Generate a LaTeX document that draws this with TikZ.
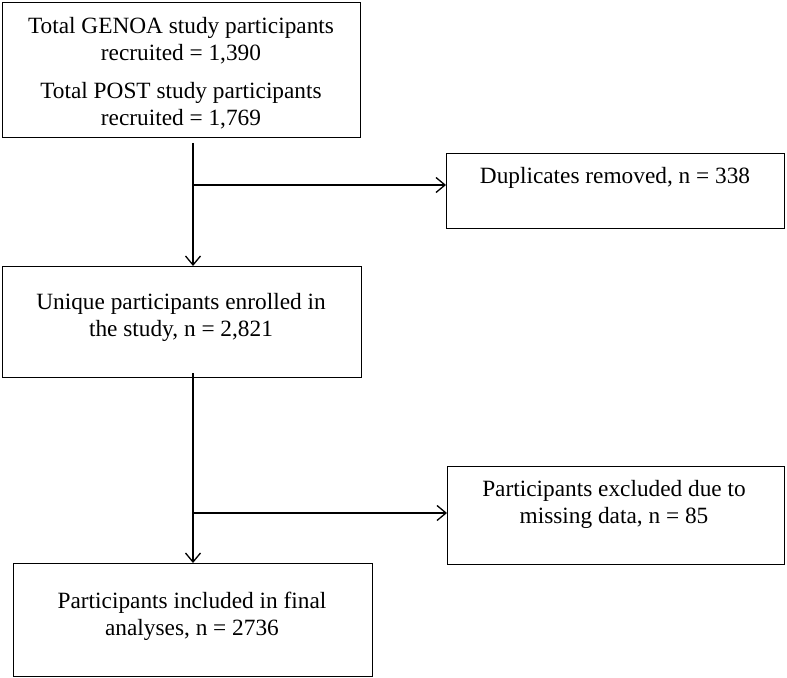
\documentclass[tikz,border=0pt]{standalone}
\usepackage{fontspec}
\setmainfont{Liberation Serif}
\usetikzlibrary{arrows.meta}
\begin{document}
\begin{tikzpicture}[x=1bp,y=-1bp,
  box/.style={draw, line width=1.4bp, anchor=north west, inner sep=0pt},
  txt/.style={align=center, inner sep=0pt, font=\fontsize{23.4}{27.2}\selectfont},
  arr/.style={line width=1.3bp, -{Straight Barb[length=9bp,width=15bp,line width=1.3bp]}},
  ln/.style={line width=1.3bp}]
\useasboundingbox (0,0) rectangle (787,678);
% boxes
\node[box, minimum width=358bp, minimum height=135bp] (b1) at (2,2) {};
\node[box, minimum width=338bp, minimum height=75bp] (b2) at (446,153) {};
\node[box, minimum width=359bp, minimum height=111bp] (b3) at (2,266) {};
\node[box, minimum width=337bp, minimum height=98bp] (b4) at (447,466) {};
\node[box, minimum width=359bp, minimum height=113bp] (b5) at (13,563) {};
% texts
\node[txt] (t1a) at (181,41) {Total GENOA study participants\\recruited = 1,390};
\node[txt] (t1b) at (181,106) {Total POST study participants\\recruited = 1,769};
\node[txt] (t2) at (615,178) {Duplicates removed, n = 338};
\node[txt] (t3) at (181,317) {Unique participants enrolled in\\the study, n = 2,821};
\node[txt] (t4) at (614,504) {Participants excluded due to\\missing data, n = 85};
\node[txt] (t5) at (192,616) {Participants included in final\\analyses, n = 2736};
% connectors
\coordinate (v1) at (193,143);
\coordinate (j1) at (193,185);
\coordinate (v2) at (193,373);
\coordinate (j2) at (193,513);
\draw[arr] (v1) -- (v1 |- b3.north);
\draw[arr] (j1) -- (j1 -| b2.west);
\draw[arr] (v2) -- (v2 |- b5.north);
\draw[arr] (j2) -- (j2 -| b4.west);
\end{tikzpicture}
\end{document}
